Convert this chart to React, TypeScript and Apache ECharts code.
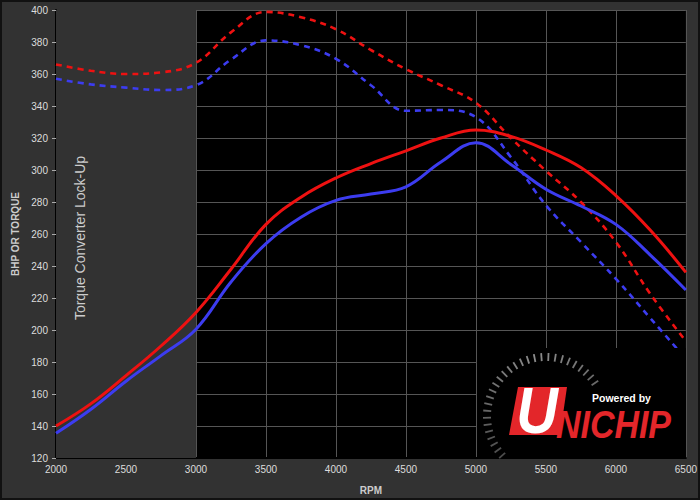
import React, { useEffect, useRef } from "react";
import * as echarts from "echarts";

const rpm = [2000, 2250, 2500, 2750, 3000, 3250, 3500, 3750, 4000, 4250, 4500, 4750, 5000, 5250, 5500, 5750, 6000, 6250, 6500];
const torqueTuned = [366, 362, 360, 361, 367, 386, 398.8, 395.5, 388, 375, 363, 353, 342, 320, 299.5, 280, 255, 222, 193];
const torqueStock = [357, 353.5, 351.5, 350, 353, 369, 381, 378, 369.5, 353, 337, 337.5, 333, 308, 278, 255, 232, 207, 182];
const bhpTuned = [140, 154, 171.5, 190, 211, 238, 266, 283, 295, 304, 312, 320, 325, 321, 312.5, 301.5, 284, 262, 236];
const bhpStock = [135.5, 150.5, 168, 184, 200.5, 230, 254, 270.5, 281, 285, 289.5, 305, 317, 303.5, 288, 277.5, 266, 246.5, 225];
const lockUpRange = [2000, 3000];
const xRange = [2000, 6500, 500];
const yRange = [120, 400, 20];

const RED = "#ee1111";
const BLUE = "#3c3cf0";

function pairs(vals: number[]) {
  return rpm.map((r, i) => [r, vals[i]]);
}

function gaugeTicks() {
  const out: any[] = [];
  const cx = 546, cy = 416, r1 = 55, r2 = 63;
  const n = 28;
  for (let i = 0; i <= n; i++) {
    const deg = 222 - (i * 188) / n;
    const a = (deg * Math.PI) / 180;
    const d = Math.abs(deg - 100) / 122;
    const g = Math.round(0x8c - d * 0x40);
    const col = `rgb(${g},${g},${g})`;
    out.push({
      type: "line",
      z: 101,
      shape: {
        x1: cx + r1 * Math.cos(a),
        y1: cy - r1 * Math.sin(a),
        x2: cx + r2 * Math.cos(a),
        y2: cy - r2 * Math.sin(a),
      },
      style: { stroke: col, lineWidth: 1.8 },
    });
  }
  return out;
}

export default function App() {
  const ref = useRef<HTMLDivElement>(null);
  useEffect(() => {
    if (!ref.current) return;
    const chart = echarts.init(ref.current, null, { renderer: "svg" });
    const dashed = { type: [6, 5] as any, width: 2.6 };
    const smooth = 0.4;
    chart.setOption({
      animation: false,
      backgroundColor: "#323232",
      grid: {
        left: 56,
        right: 14,
        top: 10,
        bottom: 40,
        show: true,
        backgroundColor: "#000",
        borderWidth: 0,
      },
      xAxis: {
        type: "value",
        min: xRange[0],
        max: xRange[1],
        interval: xRange[2],
        name: "RPM",
        nameLocation: "middle",
        nameGap: 27,
        nameTextStyle: { color: "#cccccc", fontSize: 10, fontWeight: "bold", fontFamily: "Liberation Sans" },
        axisLine: { show: true, lineStyle: { color: "#000", width: 2 } },
        axisTick: { show: false },
        axisLabel: {
          color: "#dddddd",
          fontSize: 10,
          fontFamily: "Liberation Sans",
          margin: 6,
          formatter: (v: number) => String(v),
        },
        splitLine: { show: true, lineStyle: { color: "#555", width: 1 } },
      },
      yAxis: {
        type: "value",
        min: yRange[0],
        max: yRange[1],
        interval: yRange[2],
        name: "BHP OR TORQUE",
        nameLocation: "middle",
        nameGap: 34,
        nameTextStyle: { color: "#cccccc", fontSize: 10, fontWeight: "bold", fontFamily: "Liberation Sans" },
        axisLine: { show: true, lineStyle: { color: "#000", width: 2 } },
        axisTick: { show: true, length: 4, lineStyle: { color: "#aaaaaa" } },
        axisLabel: {
          color: "#dddddd",
          fontSize: 10,
          fontFamily: "Liberation Sans",
          margin: 8,
          formatter: (v: number) => String(v),
        },
        splitLine: { show: true, lineStyle: { color: "#555", width: 1 } },
      },
      series: [
        {
          name: "Torque Tuned",
          type: "line",
          smooth,
          symbol: "none",
          data: pairs(torqueTuned),
          lineStyle: { color: RED, ...dashed },
          markArea: {
            silent: true,
            itemStyle: { color: "#323232" },
            data: [[{ xAxis: lockUpRange[0] }, { xAxis: lockUpRange[1] }]],
          },
        },
        {
          name: "Torque Stock",
          type: "line",
          smooth,
          symbol: "none",
          data: pairs(torqueStock),
          lineStyle: { color: BLUE, ...dashed },
        },
        {
          name: "BHP Tuned",
          type: "line",
          smooth,
          symbol: "none",
          data: pairs(bhpTuned),
          lineStyle: { color: RED, width: 3 },
        },
        {
          name: "BHP Stock",
          type: "line",
          smooth,
          symbol: "none",
          data: pairs(bhpStock),
          lineStyle: { color: BLUE, width: 3 },
        },
      ],
      graphic: [
        {
          type: "rect",
          z: 200,
          shape: { x: 1, y: 1, width: 698, height: 498 },
          style: { fill: "none", stroke: "#111", lineWidth: 2 },
        },
        {
          type: "text",
          z: 20,
          x: 80,
          y: 238,
          rotation: Math.PI / 2,
          style: {
            text: "Torque Converter Lock-Up",
            fill: "#cccccc",
            fontSize: 14,
            fontFamily: "Liberation Sans",
            align: "center",
            verticalAlign: "middle",
          },
        },
        {
          type: "rect",
          z: 100,
          shape: { x: 477, y: 348, width: 209, height: 111 },
          style: { fill: "#000" },
        },
        ...gaugeTicks(),
        {
          type: "polygon",
          z: 102,
          shape: { points: [[518, 387], [567, 387], [560, 435], [509, 435]] },
          style: { fill: "#e3262a" },
        },
        {
          type: "text",
          z: 103,
          x: 537,
          y: 411,
          scaleX: 0.9,
          style: {
            text: "U",
            fill: "#ffffff",
            fontSize: 64,
            fontWeight: "bold",
            fontStyle: "italic",
            fontFamily: "Liberation Sans",
            align: "center",
            verticalAlign: "middle",
            lineHeight: 64,
          },
        },
        {
          type: "text",
          z: 103,
          x: 556,
          y: 444,
          scaleX: 0.87,
          style: {
            text: "NICHIP",
            fill: "#e3262a",
            fontSize: 39,
            fontWeight: "bold",
            fontStyle: "italic",
            fontFamily: "Liberation Sans",
            align: "left",
            verticalAlign: "bottom",
          },
        },
        {
          type: "text",
          z: 103,
          x: 592,
          y: 403,
          style: {
            text: "Powered by",
            fill: "#ffffff",
            fontSize: 10.5,
            fontWeight: "bold",
            fontFamily: "Liberation Sans",
            align: "left",
            verticalAlign: "bottom",
          },
        },
      ],
    });
    return () => chart.dispose();
  }, []);
  return (
    <div
      ref={ref}
      style={{ position: "fixed", left: 0, top: 0, width: 700, height: 500 }}
    />
  );
}
